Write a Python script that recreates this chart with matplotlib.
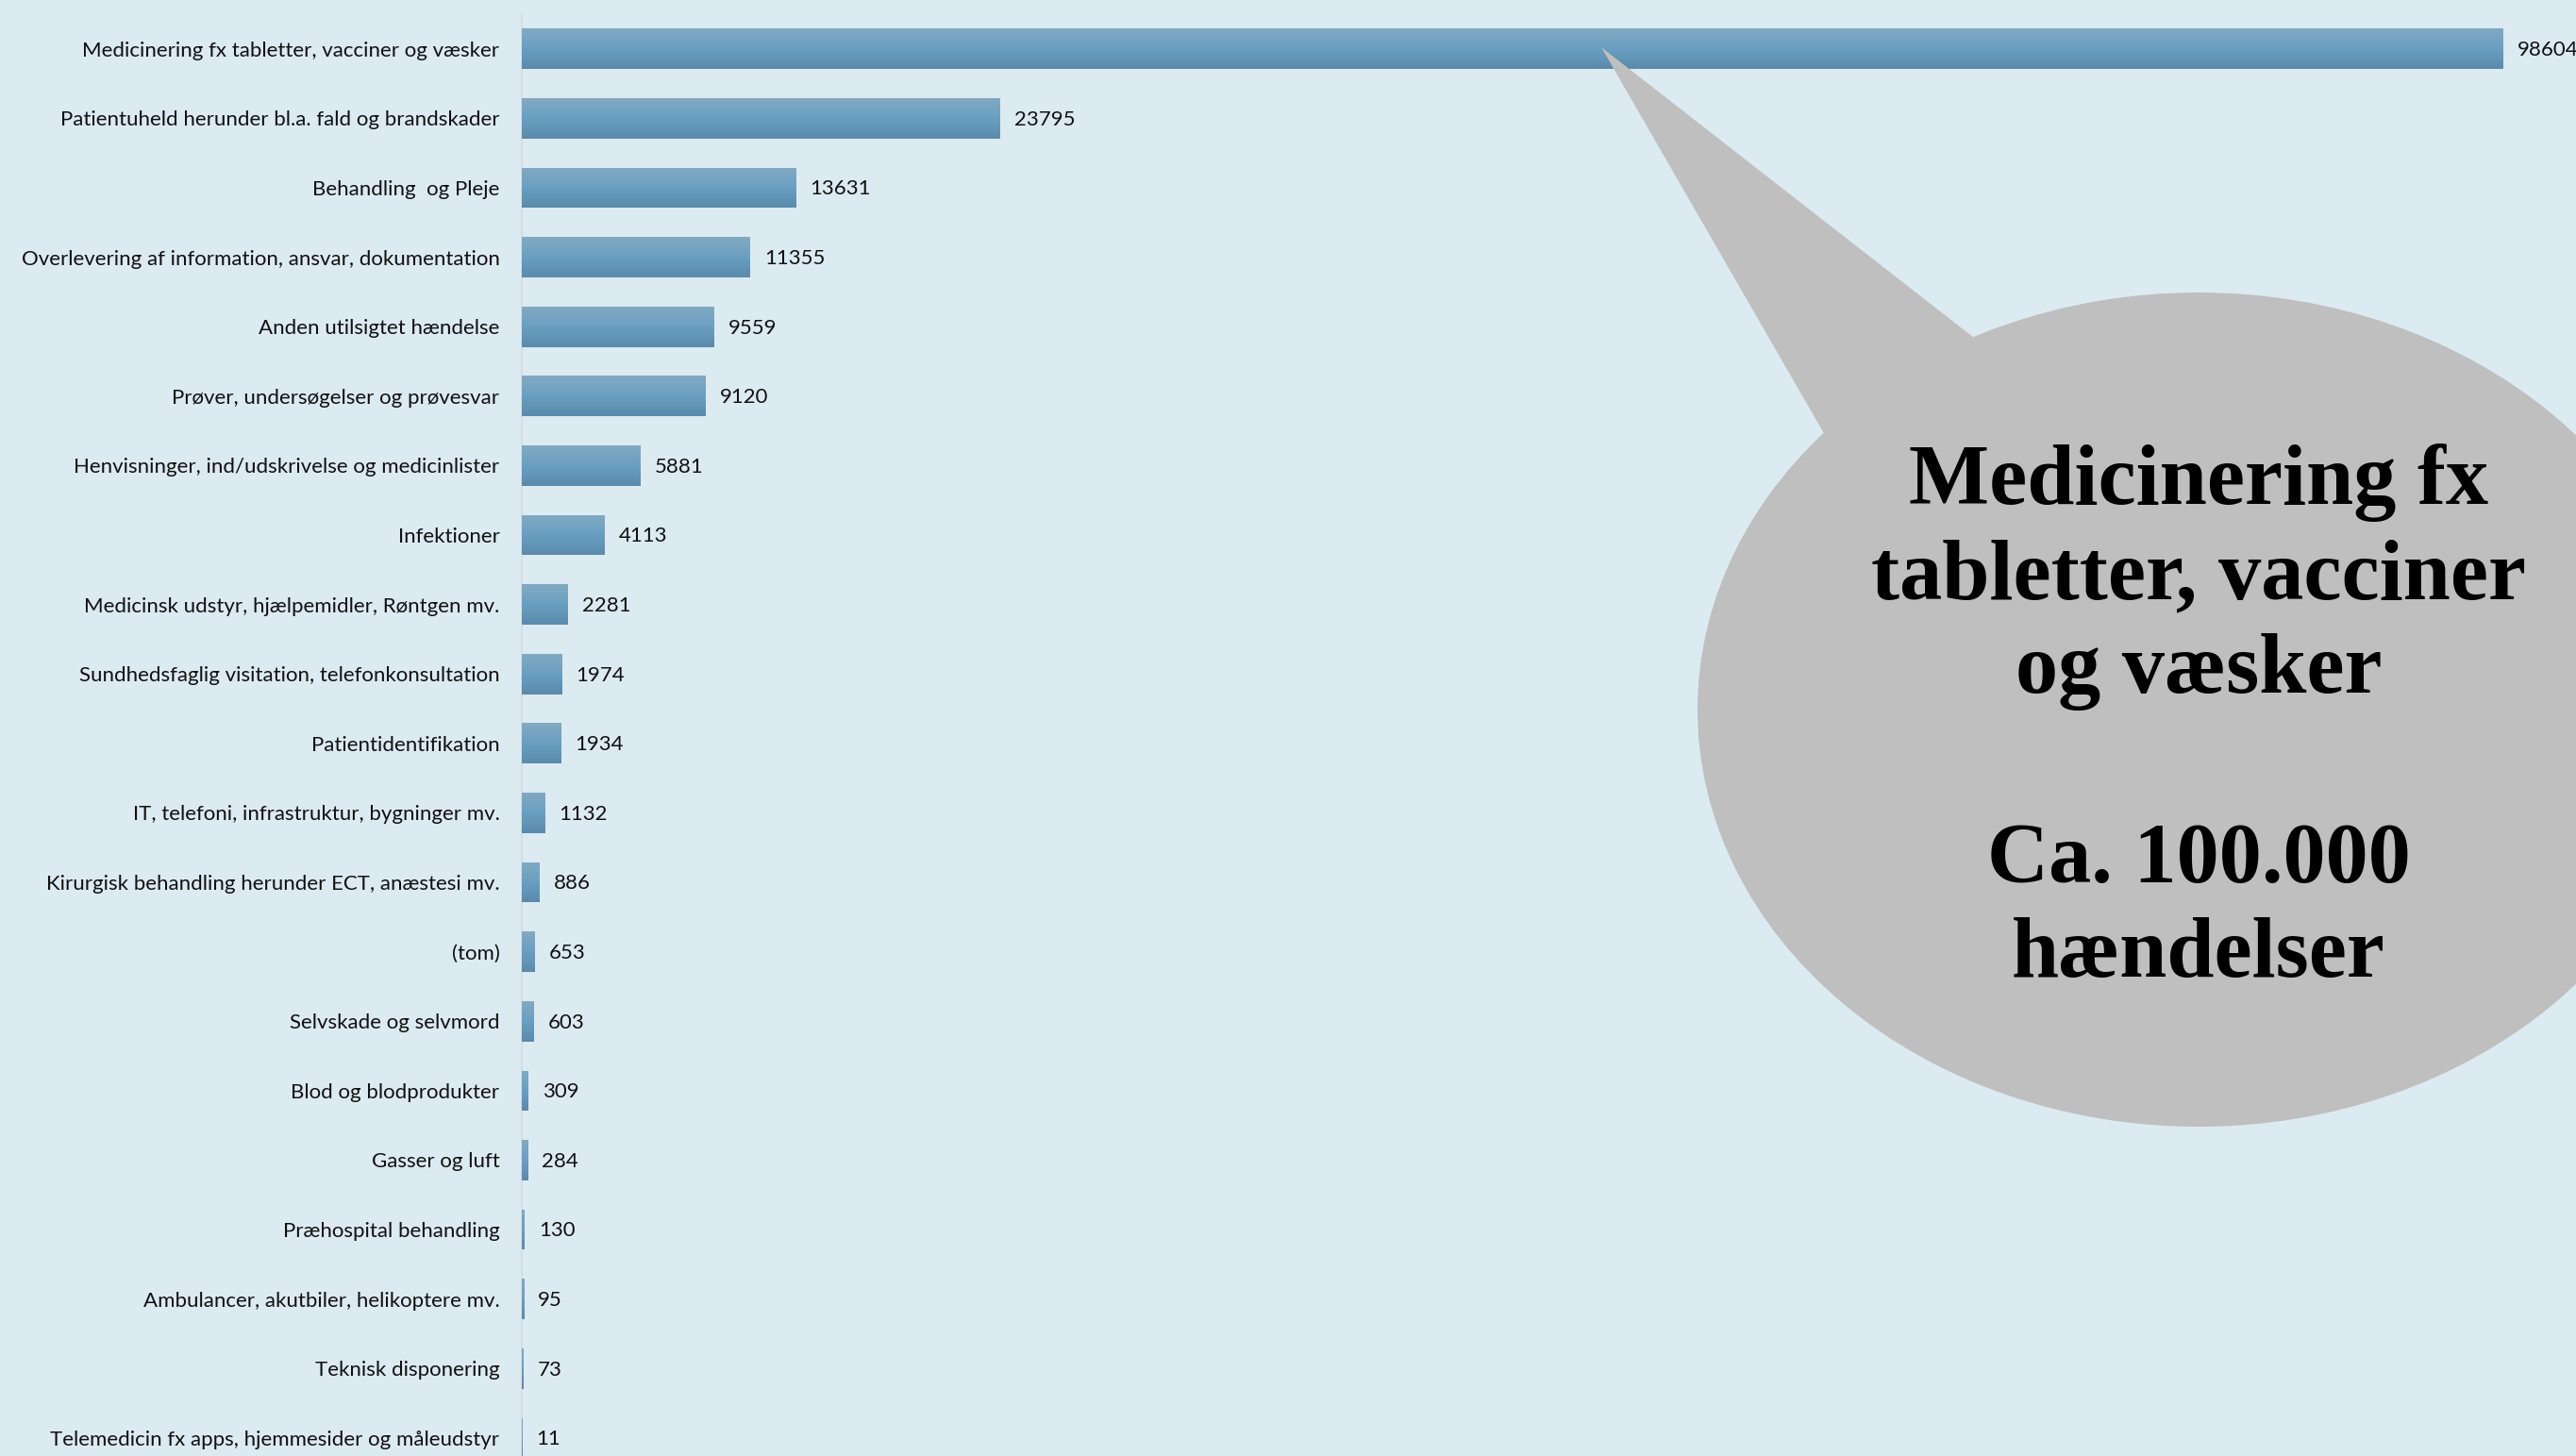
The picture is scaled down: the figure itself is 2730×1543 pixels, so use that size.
import numpy as np
import matplotlib.pyplot as plt
from matplotlib.colors import LinearSegmentedColormap
from matplotlib.patches import Ellipse, Polygon

categories = [
    "Medicinering fx tabletter, vacciner og væsker",
    "Patientuheld herunder bl.a. fald og brandskader",
    "Behandling  og Pleje",
    "Overlevering af information, ansvar, dokumentation",
    "Anden utilsigtet hændelse",
    "Prøver, undersøgelser og prøvesvar",
    "Henvisninger, ind/udskrivelse og medicinlister",
    "Infektioner",
    "Medicinsk udstyr, hjælpemidler, Røntgen mv.",
    "Sundhedsfaglig visitation, telefonkonsultation",
    "Patientidentifikation",
    "IT, telefoni, infrastruktur, bygninger mv.",
    "Kirurgisk behandling herunder ECT, anæstesi mv.",
    "(tom)",
    "Selvskade og selvmord",
    "Blod og blodprodukter",
    "Gasser og luft",
    "Præhospital behandling",
    "Ambulancer, akutbiler, helikoptere mv.",
    "Teknisk disponering",
    "Telemedicin fx apps, hjemmesider og måleudstyr",
]
counts = [98604, 23795, 13631, 11355, 9559, 9120, 5881, 4113, 2281, 1974,
          1934, 1132, 886, 653, 603, 309, 284, 130, 95, 73, 11]

callout_text = "Medicinering fx\ntabletter, vacciner\nog væsker\n\nCa. 100.000\nhændelser"

BG = "#dceaf2"
W, H = 2730, 1543
DPI = 100

fig = plt.figure(figsize=(W / DPI, H / DPI), dpi=DPI, facecolor=BG)
ax = fig.add_axes([553 / W, 0, 1 - 553 / W, 1 - 15 / H])
ax.set_facecolor(BG)

y = np.arange(len(categories))
bar_h = 0.58
bars = ax.barh(y, counts, height=bar_h, color="#6b9fc1", zorder=2)

# vertical gradient inside each bar
grad_cmap = LinearSegmentedColormap.from_list("bar", ["#82aac2", "#6a9fc1", "#5a8aab"])
grad = np.linspace(0, 1, 64).reshape(-1, 1)
for b in bars:
    x0, y0 = b.get_x(), b.get_y()
    im = ax.imshow(grad, cmap=grad_cmap, aspect="auto", zorder=3,
                   extent=[x0, x0 + b.get_width(), y0 + b.get_height(), y0])
    im.set_clip_path(b)

for yi, v in zip(y, counts):
    ax.annotate(str(v), (v, yi), xytext=(11, -1), textcoords="offset points",
                va="center", ha="left", fontsize=16, family="Lato", color="#111111")

ax.set_xlim(0, 102250)
ax.set_ylim(20.26, -0.5)
ax.set_yticks(y)
ax.set_yticklabels(categories, fontsize=16, family="Lato", color="#111111")
ax.tick_params(axis="y", length=0, pad=17)
ax.set_xticks([])
for s in ["top", "right", "bottom"]:
    ax.spines[s].set_visible(False)
ax.spines["left"].set_color("#d3dbe0")
ax.spines["left"].set_linewidth(1.2)
ax.spines["left"].set_zorder(1)

# speech bubble overlay in figure pixels
ov = fig.add_axes([0, 0, 1, 1], zorder=5)
ov.set_xlim(0, W)
ov.set_ylim(H, 0)
ov.axis("off")
ov.patch.set_alpha(0)
bubble = "#bfbfbf"
ov.add_patch(Polygon([(1697, 50), (1945, 480), (2110, 372)], closed=True,
                     facecolor=bubble, edgecolor="none"))
ov.add_patch(Ellipse((2330, 752), 1062, 884, facecolor=bubble, edgecolor="none"))
ov.text(2330, 762, callout_text, ha="center", va="center", multialignment="center",
        fontsize=65, fontweight="bold", family="Liberation Serif", linespacing=1.29,
        color="black")

fig.savefig("out.png", dpi=DPI, facecolor=BG)
